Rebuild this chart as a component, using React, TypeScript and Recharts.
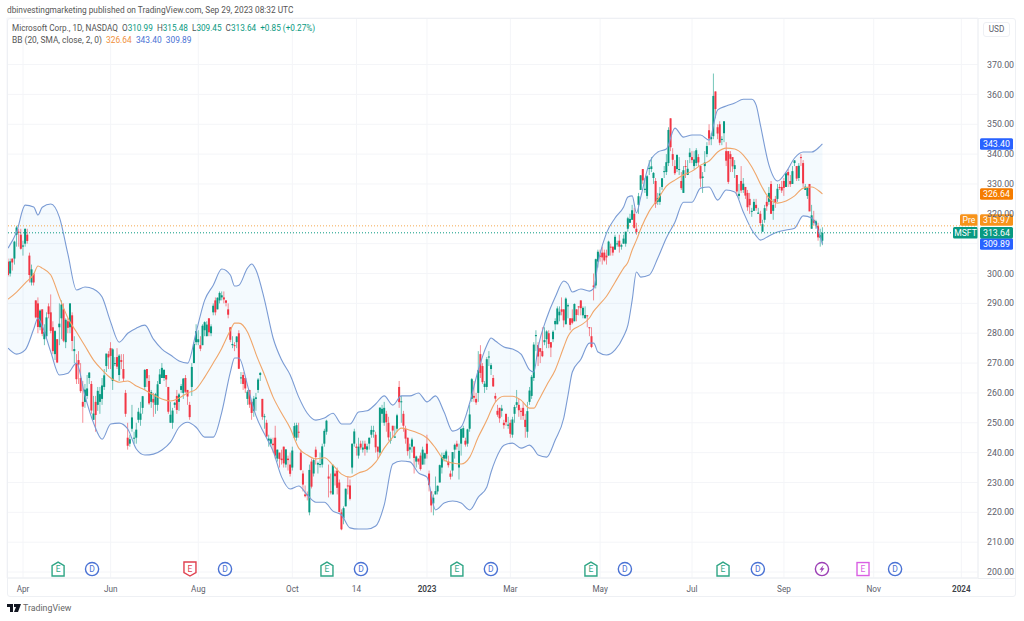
import React from 'react';
import { Area, Bar, CartesianGrid, ComposedChart, Line, ReferenceDot, ReferenceLine, XAxis, YAxis } from 'recharts';

// daily candles, Mar 23 2022 to Sep 28 2023, one line per month
const opens = [
  304,300,305,305,313,314,313,
  309,310,313,306,297,300,291,290,282,288,278,279,289,287,282,273,278,282,285,288,
  277,284,282,286,274,270,271,265,257,257,259,265,263,251,257,256,257,258,262,269,273,
  275,264,270,272,266,271,268,260,245,243,248,245,245,251,251,255,262,268,264,257,258,
  256,256,263,265,265,266,262,250,250,256,259,257,261,260,265,261,256,262,270,277,
  277,276,276,281,279,285,280,287,291,288,291,292,292,291,288,282,276,276,277,280,265,266,265,
  258,261,257,254,258,261,266,258,252,250,244,243,243,245,238,240,238,242,236,238,236,
  235,245,245,247,240,233,226,226,220,237,233,241,236,236,236,243,247,232,227,226,233,
  234,230,220,218,222,229,229,235,243,242,239,243,241,243,241,243,246,247,246,242,240,
  253,250,253,250,244,249,245,248,262,257,253,248,245,241,242,242,237,238,239,236,238,
  243,233,227,223,226,227,230,235,238,238,237,233,234,241,243,235,243,245,244,243,
  248,258,259,258,260,273,269,262,262,272,268,265,259,254,255,254,250,253,249,
  250,246,253,256,256,254,255,251,247,257,259,265,279,276,275,274,277,278,280,277,278,283,283,
  286,288,288,283,289,285,285,284,288,289,291,286,285,286,282,279,296,296,304,
  306,307,307,306,306,309,309,308,310,311,309,310,310,315,317,318,320,315,323,328,335,328,
  326,335,335,332,331,324,324,329,334,334,337,352,340,336,335,335,331,327,336,333,339,
  339,336,337,339,336,332,336,340,348,345,346,361,349,350,345,347,341,341,340,339,
  335,333,326,331,328,329,327,325,321,321,323,320,320,314,318,324,324,330,321,325,325,329,329,
  331,329,334,331,330,337,336,332,339,337,328,326,330,315,318,316,316,312,311,
];
const highs = [
  305,305,305,311,316,315,315,
  311,315,315,307,303,300,291,292,288,288,283,287,290,293,284,281,278,290,291,290,
  285,285,290,287,279,273,274,270,264,263,266,267,264,259,259,262,262,265,268,273,274,
  277,275,272,275,273,273,273,261,250,246,256,247,250,255,257,259,268,268,266,261,260,
  260,264,268,270,268,266,262,257,255,257,261,260,263,265,266,261,257,270,277,283,
  281,279,283,284,284,285,283,290,292,292,294,294,294,291,290,282,279,277,279,281,267,267,265,
  261,261,257,259,260,265,267,258,253,251,246,245,245,249,241,240,241,242,241,239,240,
  242,250,250,250,241,234,229,227,236,238,238,242,237,240,243,248,251,236,233,236,234,
  235,231,221,222,228,232,231,243,248,243,245,244,244,244,243,245,249,249,247,242,255,
  256,257,254,252,247,249,249,253,264,259,254,249,245,243,245,242,239,238,240,242,240,
  246,234,227,226,232,229,236,240,240,241,239,234,240,243,244,243,248,249,245,248,
  256,265,264,260,274,276,270,264,272,274,270,266,260,256,255,256,251,253,252,
  251,252,256,261,258,255,257,253,257,262,266,277,281,277,275,282,282,281,281,277,281,285,289,
  289,292,288,292,290,285,288,290,288,289,291,289,289,286,282,282,300,305,308,
  308,309,308,308,311,310,309,313,311,313,310,313,314,319,320,323,322,317,327,333,335,332,
  333,338,339,334,332,327,329,332,336,340,349,352,342,338,340,339,334,336,338,338,342,
  341,341,342,340,336,334,341,344,350,347,367,361,350,351,346,351,344,341,341,339,
  338,333,330,336,332,329,328,327,322,325,325,322,321,318,323,326,329,331,325,326,330,330,331,
  332,334,335,333,336,338,336,337,340,338,330,329,330,323,321,318,317,315,315.5,
];
const lows = [
  299,299,301,303,309,309,308,
  306,309,310,297,296,296,285,280,281,279,276,278,285,280,273,271,270,276,278,277,
  275,280,280,274,270,263,263,260,250,255,258,263,253,251,247,254,253,256,261,267,268,
  268,261,269,268,264,268,264,252,241,242,247,243,243,250,249,253,261,262,256,255,252,
  253,254,263,265,264,262,253,250,248,255,253,254,260,258,260,256,251,259,270,276,
  276,274,276,279,279,279,279,286,286,288,290,291,290,289,285,277,275,274,275,268,263,261,260,
  256,255,251,252,254,260,264,251,248,245,242,242,240,238,237,235,236,235,235,234,232,
  234,245,244,245,234,227,225,224,219,228,232,236,233,235,235,242,246,225,226,226,229,
  226,220,214,216,222,226,224,233,242,239,238,241,240,239,240,241,245,245,240,238,239,
  250,249,247,244,243,245,245,247,255,250,247,243,239,238,240,233,235,236,234,236,236,
  238,227,220,219,226,226,230,233,237,237,235,231,232,238,241,231,239,245,242,242,
  247,257,257,256,257,265,263,260,261,269,266,262,257,252,250,252,248,249,248,
  245,245,250,255,252,251,251,245,245,256,258,264,274,269,270,272,276,275,275,272,277,281,283,
  284,286,282,283,285,281,283,284,284,286,286,285,285,282,279,275,291,295,302,
  304,303,304,303,306,306,306,308,309,307,308,310,309,314,317,318,315,313,320,328,330,327,
  325,333,334,330,322,323,323,328,332,333,336,341,336,333,334,333,328,327,332,333,337,
  337,335,336,336,329,327,334,339,343,343,345,352,345,343,343,344,336,330,334,334,
  332,326,325,327,327,325,321,320,319,321,321,320,316,314,317,321,323,320,318,322,324,328,327,
  326,329,329,329,330,336,331,331,336,329,328,325,321,315,316,315,311,309,309.5,
];
const closes = [
  299.5,304.1,303.7,310.7,315.4,313.9,308.3,
  309.4,315,310.9,299.5,301.4,297,285.3,282.1,287.6,279.8,280.5,285.3,286.4,280.8,274,280.7,270.2,283.2,289.6,277.5,
  284.5,281.8,290,277.4,274.7,264.6,269.5,260.6,255.4,261.1,261.5,266.8,254.1,253.1,252.6,260.7,259.6,262.5,265.9,273.2,271.9,
  272.4,274.6,270,268.8,272.5,270.4,264.8,253,242.3,244.5,251.8,245,247.7,253.7,253.1,258.9,267.7,264.9,256.5,260.3,256.8,
  259.6,262.9,266.2,268.4,267.7,264.5,253.7,252.7,254.1,256.7,254.3,259.5,262.3,264.8,260.4,258.8,251.9,268.7,276.4,280.7,
  278,274.8,282.5,283.7,282.9,280.3,282.3,289.2,287,291.9,293.5,292.7,291.3,290.2,286.2,277.8,276.4,275.8,278.9,268.1,265.2,263,261.5,
  260.4,256.1,253.3,258.1,258.5,264.5,266.7,252,252.2,245.4,244.7,244.5,242.5,239,241,237.9,237.5,236.4,241.1,237.5,232.9,
  240.7,248.9,249.2,246.8,234.2,229.3,225.4,225.8,234.2,228.6,237.5,238.5,236.5,236.2,242.1,247.3,250.7,231.3,226.8,235.9,232.1,
  228.2,220.1,214.3,221.4,227.9,228.9,224.5,243,247.1,241.6,242,241.7,241.7,241.2,242.1,245,247.6,247.5,241.8,240.3,255.1,
  254.7,255,250.2,245.1,244.4,247.4,245.4,252.5,256.9,257.2,249,244.7,240.5,241.8,244.4,238.2,238.7,237,234.5,241,239.8,
  239.6,229.1,222.3,224.9,227.1,228.9,235.8,238.5,239.2,240.4,235.8,231.9,240.2,242.6,242,240.6,248,248.2,242.7,247.8,
  252.8,264.6,258.4,256.8,267.6,266.7,263.6,263.1,271.3,272.2,269.3,262.2,258.1,252.7,251.5,254.8,249.2,250.2,249.4,
  246.3,251.1,255.3,256.9,254.2,253.7,252.3,248.6,253.9,260.8,265.4,276.2,279.4,272.2,273.8,272.3,277.7,280.6,276.4,275.2,280.5,284.1,288.3,
  287.2,287.2,284.3,291.6,289.4,282.8,283.5,289.8,286.1,288.8,288.4,288.5,286.1,285.8,281.8,275.4,295.4,304.8,307.3,
  305.6,305.4,304.4,305.4,310.7,308.7,307,312.3,310.1,309,309.5,311.7,314,318.5,318.3,321.2,315.3,313.9,325.9,332.9,331.2,328.4,
  332.6,335.4,335.9,333.7,323.4,325.3,326.8,331.9,334.3,337.3,348.1,342.3,338.1,333.6,339.7,335,328.6,334.6,335.9,335.1,340.5,
  338,338.2,341.3,337.2,331.8,332.5,337.2,342.7,345.2,345.7,359.5,355.1,346.9,343.8,345.1,351,337.8,330.7,338.4,335.9,
  336.3,327.5,326.7,327.8,330.1,326.1,322.2,322.9,321,324,321.9,320.4,316.9,316.5,321.9,322.5,327,320,323,323.7,328.4,328.8,327.8,
  328.7,333.6,332.9,329.9,334.3,337.9,331.8,336.1,338.7,330.2,329.1,328.7,320.8,319.5,317,317.5,312.1,312.8,313.64,
];

// Bollinger band readings, sampled at these bar numbers
const bandBars = [
  0,4,8,12,14,16,20,24,28,32,36,40,44,48,52,56,60,64,68,72,76,80,84,88,92,96,100,104,106,108,
  112,114,116,120,124,128,132,136,140,144,148,152,156,160,164,168,172,176,180,184,188,192,196,200,
  204,208,212,216,220,224,226,228,232,236,240,244,246,248,252,256,260,262,264,268,272,274,276,280,
  284,288,290,292,294,296,300,304,308,312,316,320,324,328,332,336,340,344,348,350,352,356,360,364,
  368,372,376,380,381,
];
const upperBand = [
  308.5,313.9,322.9,322.3,319.6,322.2,323.3,318.9,306.5,294.5,295.5,294.8,292.1,283.7,277,280,281.7,282.7,278,274.7,272.7,270.7,270,280.4,291.1,296.1,301.5,299.5,295.8,296.1,
  301.8,303.2,301.2,291.1,278.4,271,266,258.6,253.2,250.9,251.6,253.2,249.6,249.6,253.6,254,256.3,259,255.9,259,259,260,257,259,
  253.6,247.2,248.6,256.7,267.7,276,278.4,277.4,275.4,274.7,273,267.7,267,275.4,285.1,292.1,297.5,296.5,293.8,294.8,294.1,295,303.5,313.6,
  318.6,322.3,325.6,326,320.3,325.6,337,340.7,341.7,348.7,345.7,346.4,346.4,344.7,354.8,356.1,357.1,358.4,358.4,356.4,349.7,336.3,331,334,
  338.7,340.7,340.7,342.7,343.4,
];
const basisBand = [
  291.4,293.8,296.8,299.8,302.5,301.8,299.5,292.1,285.1,280.4,275.7,271,267.7,265,263.6,264,262.3,261,259.3,258,257.3,258.3,260,261.3,265.3,270,275,281,283.4,283.4,
  280.4,277,273,266,258.6,253.2,248.2,241.5,239.2,237.9,238.3,235.8,232.8,231.8,233.2,234.2,236.8,241.5,245.2,248.2,247.5,246.5,244.9,241.5,
  237.5,236.5,236.2,238.5,245.2,250.9,254.2,256.9,258.9,258.9,257.6,254.9,254.9,257.2,262.6,267.7,275.4,279,281,282.7,285.1,287.4,289.1,292.4,
  297.1,301.8,303.8,307.9,311.2,314.9,320.9,324.9,329.3,331.3,333,334.3,336.3,337.7,340.7,342,341.7,339.7,335.7,333,330,325.3,323.6,324.3,
  326,328.6,329,327.3,326.64,
];
const lowerBand = [
  275,273,274.4,281.4,285.1,282.4,273.7,266,266.6,270,258.9,249.9,244.5,249.6,249.9,247.9,241.2,239.2,239.5,240.9,243.5,248.5,250.2,248.5,245.2,245.2,253.6,267,271.7,271.7,
  262.6,257,252.3,246.2,240.5,231.8,227.8,228.8,225.8,223.4,223.4,220.4,219.1,214.8,214.4,214.4,215.4,222.5,236.2,237.2,236.9,233.2,231.8,220.8,
  223.1,223.8,223.1,220.8,225.1,228.5,233.5,237.5,242.5,243.2,241.5,242.5,241.2,239.2,238.5,244.2,251.6,259.3,267,271.3,276.7,276.7,273.7,272.7,
  274.4,279,282.7,291.1,300.5,298.8,299.5,305.2,311.9,317.2,323.9,323.9,328.6,329,324.6,328,327.3,320.6,314.6,312.6,311.2,312.6,313.9,314.6,
  315.2,319.3,318.6,312.2,309.89,
];

const priceTicks = [200,210,220,230,240,250,260,270,280,290,300,310,320,330,340,350,360,370];
const timeTicks = [7,48,89,133,163,196,235,277,320,363,405,446];
const timeLabels = ['Apr','Jun','Aug','Oct','14','2023','Mar','May','Jul','Sep','Nov','2024'];

const eventBars = [23.4,39.3,85.1,101.5,149.2,165.1,210,225.9,272.7,288.6,334.5,350.8,380.8,400,415];
const eventKinds = ['beat','div','miss','div','beat','div','beat','div','beat','div','beat','div','split','next','div'];

const candles = closes.map((close, i) => ({ i, open: opens[i], high: highs[i], low: lows[i], close }));
const bands = bandBars.map((i, k) => ({ i, upper: upperBand[k], basis: basisBand[k], lower: lowerBand[k], range: [lowerBand[k], upperBand[k]] }));

const GREEN = '#089981';
const RED = '#f23645';
const BLUE = '#2962ff';
const BAND = '#7a9bd4';
const FONT = 'Roboto, sans-serif';

const Candle = (props: any) => {
  const { x, y, width, height, payload } = props;
  const { open, close, high, low } = payload;
  const color = close >= open ? GREEN : RED;
  const toY = (v: number) => y + ((high - v) / (high - low)) * height;
  const top = toY(Math.max(open, close));
  const bottom = toY(Math.min(open, close));
  const mid = x + width / 2;
  return (
    <g>
      <rect x={mid - 0.4} y={y} width={0.8} height={height} fill={color} opacity={0.7} />
      <rect x={mid - 1} y={top} width={2} height={Math.max(bottom - top, 1)} fill={color} />
    </g>
  );
};

const EventMark = (props: any) => {
  const { cx, cy, kind } = props;
  const base = { fill: '#fff', strokeWidth: 1.4 };
  const letter = (text: string, color: string) => (
    <text x={cx} y={cy + 3} textAnchor="middle" fontSize={8.5} fontFamily={FONT} fill={color}>{text}</text>
  );
  if (kind === 'div') {
    return <g><circle cx={cx} cy={cy} r={6.6} stroke="#4a72d4" {...base} />{letter('D', '#4a72d4')}</g>;
  }
  if (kind === 'split') {
    return (
      <g>
        <circle cx={cx} cy={cy} r={6.6} stroke="#9c3fb5" {...base} />
        <path d={`M${cx + 1.5} ${cy - 4}L${cx - 2.5} ${cy + 0.8}H${cx - 0.3}L${cx - 1.5} ${cy + 4}L${cx + 2.5} ${cy - 0.8}H${cx + 0.3}Z`} fill="#9c3fb5" />
      </g>
    );
  }
  if (kind === 'next') {
    return (
      <g>
        <rect x={cx - 6} y={cy - 6.5} width={12} height={13} stroke="#d95fe3" {...base} />
        {letter('E', '#d95fe3')}
      </g>
    );
  }
  const color = kind === 'miss' ? '#e0404f' : '#2fa585';
  const d = kind === 'miss'
    ? `M${cx - 6} ${cy - 7}H${cx + 6}V${cy + 3.5}L${cx} ${cy + 7}L${cx - 6} ${cy + 3.5}Z`
    : `M${cx - 6} ${cy + 7}H${cx + 6}V${cy - 3.5}L${cx} ${cy - 7}L${cx - 6} ${cy - 3.5}Z`;
  return <g><path d={d} stroke={color} {...base} />{letter('E', color)}</g>;
};

// tags get pushed apart like on the real price scale, hence the shift
const priceTag = (text: string, color: string, name?: string, nameWidth = 0, shift = 0) => (props: any) => {
  const { viewBox } = props;
  const right = viewBox.x + viewBox.width;
  const cy = viewBox.y + shift;
  return (
    <g>
      {name && (
        <g>
          <rect x={right - nameWidth} y={cy - 5.7} width={nameWidth} height={11.4} rx={1.5} fill={color} />
          <text x={right - nameWidth / 2} y={cy + 3} textAnchor="middle" fontSize={8.6} fontFamily={FONT} fill="#fff">{name}</text>
        </g>
      )}
      <rect x={right + 2} y={cy - 5.7} width={33} height={11.4} rx={1.5} fill={color} />
      <text x={right + 18.5} y={cy + 3} textAnchor="middle" fontSize={8.8} fontFamily={FONT} fill="#fff">{text}</text>
    </g>
  );
};

const TimeTick = (props: any) => {
  const { x, y, payload } = props;
  const label = timeLabels[timeTicks.indexOf(payload.value)];
  const isYear = label === '2023' || label === '2024';
  return (
    <text x={x} y={y + 6} textAnchor="middle" fontSize={8.2} fontFamily={FONT} fontWeight={isYear ? 600 : 400} fill={isYear ? '#3c3f47' : '#5d606b'}>
      {label}
    </text>
  );
};

const Span = ({ color, children }: { color: string; children: React.ReactNode }) => (
  <span style={{ color }}>{children}</span>
);

export default function App() {
  return (
    <div style={{ position: 'absolute', left: 0, top: 0, width: 1024, height: 621, background: '#fff', fontFamily: FONT, overflow: 'hidden' }}>
      <ComposedChart width={1024} height={621} data={candles} margin={{ top: 18, right: 9, bottom: 24, left: 7 }}>
        <CartesianGrid stroke="#f4f5f8" strokeWidth={1} />
        <XAxis
          dataKey="i"
          type="number"
          domain={[-0.5, 453.8]}
          allowDataOverflow
          ticks={timeTicks}
          height={19}
          axisLine={{ stroke: '#eceef2' }}
          tickLine={false}
          tick={<TimeTick />}
          interval={0}
        />
        <YAxis
          orientation="right"
          type="number"
          domain={[198, 385.6]}
          allowDataOverflow
          ticks={priceTicks}
          width={37}
          axisLine={{ stroke: '#eef0f4' }}
          tickLine={false}
          tickMargin={3}
          interval={0}
          tick={{ fontSize: 8.8, fontFamily: FONT, fill: '#5d606b', textAnchor: 'start' }}
          tickFormatter={(v: number) => (v === 310 ? '' : v.toFixed(2))}
        />
        <Area data={bands} dataKey="range" type="monotone" stroke="none" fill="#2196f3" fillOpacity={0.05} dot={false} activeDot={false} isAnimationActive={false} />
        <Bar dataKey={(d: any) => [d.low, d.high]} barSize={2} shape={<Candle />} isAnimationActive={false} />
        <Line data={bands} dataKey="upper" type="monotone" stroke={BAND} strokeWidth={1.1} dot={false} activeDot={false} isAnimationActive={false} />
        <Line data={bands} dataKey="lower" type="monotone" stroke={BAND} strokeWidth={1.1} dot={false} activeDot={false} isAnimationActive={false} />
        <Line data={bands} dataKey="basis" type="monotone" stroke="#f0a66a" strokeWidth={1.1} dot={false} activeDot={false} isAnimationActive={false} />
        <ReferenceLine y={343.4} stroke="none" label={{ content: priceTag('343.40', BLUE) }} />
        <ReferenceLine y={326.64} stroke="none" label={{ content: priceTag('326.64', '#f57c00') }} />
        <ReferenceLine y={315.97} stroke="#f4a94e" strokeDasharray="1 2" label={{ content: priceTag('315.97', '#f7931a', 'Pre', 18, -5.8) }} />
        <ReferenceLine y={309.89} stroke="none" label={{ content: priceTag('309.89', BLUE) }} />
        <ReferenceLine y={313.64} stroke={GREEN} strokeDasharray="1 2" label={{ content: priceTag('313.64', GREEN, 'MSFT', 25) }} />
        {eventBars.map((bar, k) => (
          <ReferenceDot key={k} x={bar} y={201} r={7} shape={<EventMark kind={eventKinds[k]} />} />
        ))}
      </ComposedChart>

      <div style={{ position: 'absolute', left: 7, top: 18, width: 1009, height: 579, border: '1px solid #eef0f4', borderRadius: 3, boxSizing: 'border-box', pointerEvents: 'none' }} />
      <div style={{ position: 'absolute', left: 978, top: 578, width: 38, height: 1, background: '#eceef2' }} />

      <div style={{ position: 'absolute', left: 7, top: 4, fontSize: 8.3, lineHeight: '12px', color: '#555', whiteSpace: 'nowrap' }}>
        dbinvestingmarketing published on TradingView.com, Sep 29, 2023 08:32 UTC
      </div>
      <div style={{ position: 'absolute', left: 12, top: 22, fontSize: 8.2, lineHeight: '12px', color: '#555', whiteSpace: 'nowrap' }}>
        Microsoft Corp., 1D, NASDAQ&nbsp; O<Span color={GREEN}>310.99</Span>&nbsp; H<Span color={GREEN}>315.48</Span>&nbsp; L<Span color={GREEN}>309.45</Span>&nbsp; C<Span color={GREEN}>313.64</Span>&nbsp; <Span color={GREEN}>+0.85 (+0.27%)</Span>
      </div>
      <div style={{ position: 'absolute', left: 12, top: 34, fontSize: 8.4, lineHeight: '12px', color: '#555', whiteSpace: 'nowrap' }}>
        BB (20, SMA, close, 2, 0)&nbsp; <Span color="#f0903a">326.64</Span>&nbsp; <Span color="#4a72d4">343.40</Span>&nbsp; <Span color="#4a72d4">309.89</Span>
      </div>

      <div style={{ position: 'absolute', left: 983, top: 22, width: 27, height: 15, border: '1px solid #eef0f4', borderRadius: 3, boxSizing: 'border-box', background: '#fff', fontSize: 8.2, color: '#5d606b', textAlign: 'center', lineHeight: '13px' }}>
        USD
      </div>

      <svg style={{ position: 'absolute', left: 7, top: 604 }} width={15} height={9}>
        <path d="M0 0H6V8H3V3H0ZM7 0H14L11 8H7L9 3H7Z" fill="#131722" />
      </svg>
      <div style={{ position: 'absolute', left: 23, top: 602, fontSize: 8.8, lineHeight: '12px', color: '#666', whiteSpace: 'nowrap' }}>TradingView</div>
    </div>
  );
}
